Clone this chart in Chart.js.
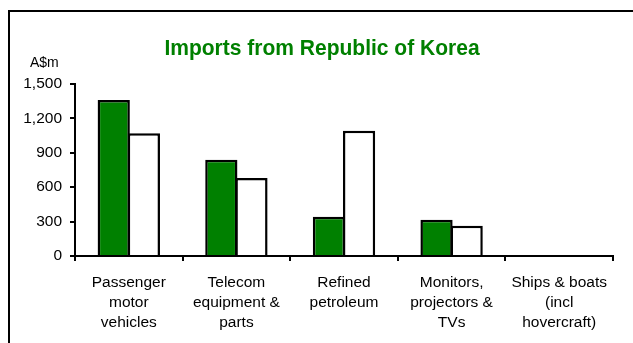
<!DOCTYPE html>
<html>
<head>
<meta charset="utf-8">
<script src="https://cdn.jsdelivr.net/npm/chart.js@4.4.0/dist/chart.umd.min.js"></script>
<style>
  html, body { margin: 0; padding: 0; background: #fff; }
  #wrap { width: 633px; height: 343px; position: relative; }
</style>
</head>
<body>
<div id="wrap"><canvas id="chart"></canvas></div>
<script>
// Imports from Republic of Korea, A$m
const categories = [
  ['Passenger', 'motor', 'vehicles'],
  ['Telecom', 'equipment &', 'parts'],
  ['Refined', 'petroleum'],
  ['Monitors,', 'projectors &', 'TVs'],
  ['Ships & boats', '(incl', 'hovercraft)']
];
const seriesA = [1360, 840, 343, 317, 0];
const seriesB = [1070, 680, 1093, 264, 0];
const yTicks = [0, 300, 600, 900, 1200, 1500];

const FONT = "'Liberation Sans', Arial, sans-serif";
const GREEN = '#008000';

// frame, title and unit label drawn straight onto the canvas
const decorations = {
  id: 'decorations',
  afterDraw(chart) {
    const c = chart.ctx;
    c.save();
    c.fillStyle = '#000';
    c.fillRect(8, 10, 2, 333);
    c.fillRect(8, 10, 625, 2);

    c.save();
    c.fillStyle = GREEN;
    c.font = 'bold 22px ' + FONT;
    c.textAlign = 'center';
    c.textBaseline = 'alphabetic';
    c.translate(322, 55);
    c.scale(0.955, 1);
    c.fillText('Imports from Republic of Korea', 0, 0);
    c.restore();

    c.fillStyle = '#000';
    c.font = '14px ' + FONT;
    c.textAlign = 'left';
    c.textBaseline = 'alphabetic';
    c.fillText('A$m', 30, 67);
    c.restore();
  }
};

new Chart(document.getElementById('chart'), {
  type: 'bar',
  data: {
    labels: categories,
    datasets: [
      {
        data: seriesA,
        backgroundColor: GREEN,
        borderColor: '#000',
        borderWidth: 2.5
      },
      {
        data: seriesB,
        backgroundColor: '#fff',
        borderColor: '#000',
        borderWidth: 2.5
      }
    ]
  },
  options: {
    responsive: true,
    maintainAspectRatio: false,
    animation: false,
    layout: { padding: { left: 0, top: 84, right: 20, bottom: 0 } },
    datasets: {
      bar: { categoryPercentage: 0.56, barPercentage: 1.07, inflateAmount: 0 }
    },
    plugins: {
      legend: { display: false },
      tooltip: { enabled: false },
      title: { display: false }
    },
    scales: {
      x: {
        afterFit(scale) { scale.height = 87; },
        grid: {
          offset: true,
          drawOnChartArea: false,
          drawTicks: true,
          tickLength: 5,
          color: '#000',
          lineWidth: 2
        },
        border: { display: true, color: '#000', width: 2 },
        ticks: {
          color: '#000',
          padding: 11,
          maxRotation: 0,
          autoSkip: false,
          font: { family: FONT, size: 15.5, lineHeight: 1.32 }
        }
      },
      y: {
        min: yTicks[0],
        max: yTicks[yTicks.length - 1],
        afterFit(scale) { scale.width = 75; },
        afterBuildTicks(scale) { scale.ticks = yTicks.map(v => ({ value: v })); },
        grid: {
          drawOnChartArea: false,
          drawTicks: true,
          tickLength: 5,
          color: '#000',
          lineWidth: 2
        },
        border: { display: true, color: '#000', width: 2 },
        ticks: {
          color: '#000',
          padding: 8,
          font: { family: FONT, size: 15.5 },
          callback: v => v.toLocaleString('en-US')
        }
      }
    }
  },
  plugins: [decorations]
});
</script>
</body>
</html>
